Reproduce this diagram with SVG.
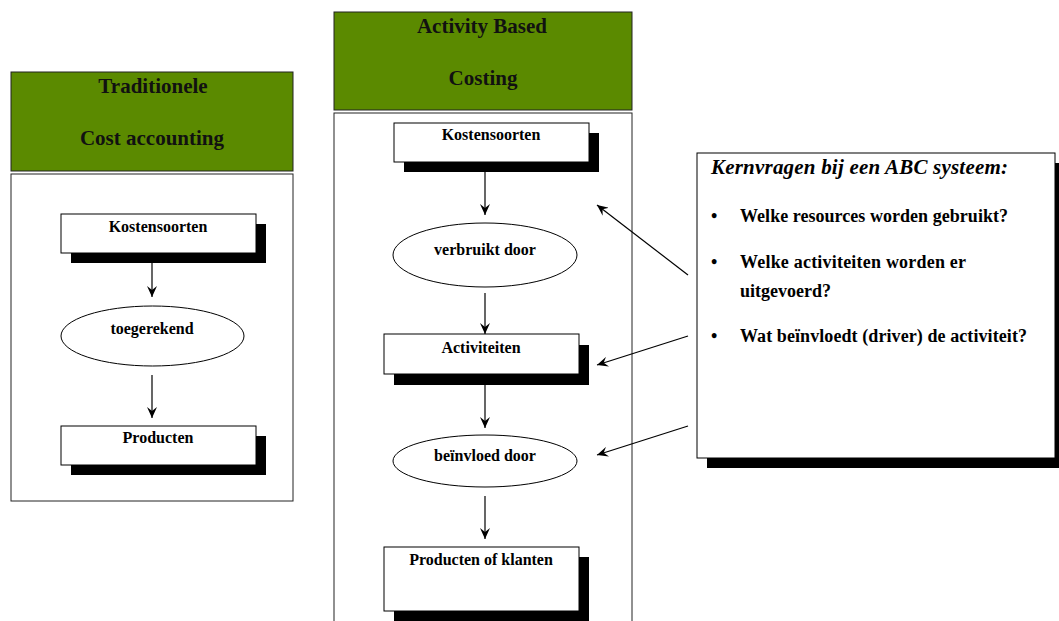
<svg xmlns="http://www.w3.org/2000/svg" width="1059" height="621" viewBox="0 0 1059 621">
<style>
.hdr{fill:#5b8a00;stroke:#222;stroke-width:1}
.panel{fill:#fff;stroke:#222;stroke-width:1}
.box{fill:#fff;stroke:#000;stroke-width:1}
.shadow{fill:#000}
.ht{font-family:"Liberation Serif",serif;font-weight:bold;font-size:21px;fill:#111;text-anchor:middle}
.nt{font-family:"Liberation Serif",serif;font-weight:bold;font-size:16px;fill:#000;text-anchor:middle}
.qt{font-family:"Liberation Serif",serif;font-weight:bold;font-size:18px;fill:#000}
.conn{stroke:#000;stroke-width:1.2;fill:none;marker-end:url(#ah)}
</style>
<defs>
<marker id="ah" viewBox="0 0 12 10" refX="11" refY="5" markerWidth="12" markerHeight="10" markerUnits="userSpaceOnUse" orient="auto">
<path d="M0,0 L11,5 L0,10 L4,5 Z" fill="#000"/>
</marker>
</defs>
<rect width="1059" height="621" fill="#fff"/>

<g id="traditional">
<rect class="hdr" x="11" y="72" width="282" height="99"/>
<text class="ht" x="153" y="93">Traditionele</text>
<text class="ht" x="152" y="145">Cost accounting</text>
<rect class="panel" x="11" y="174" width="282" height="327"/>
</g>
<g id="t-kostensoorten">
<rect class="shadow" x="71" y="224" width="195" height="39"/>
<rect class="box" x="61" y="214" width="195" height="39"/>
<text class="nt" x="158" y="232">Kostensoorten</text>
</g>
<g id="t-toegerekend">
<ellipse class="box" cx="152.5" cy="336" rx="91.5" ry="30"/>
<text class="nt" x="152" y="334">toegerekend</text>
</g>
<g id="t-producten">
<rect class="shadow" x="71" y="436" width="195" height="39"/>
<rect class="box" x="61" y="426" width="195" height="39"/>
<text class="nt" x="158" y="443">Producten</text>
</g>

<g id="abc">
<rect class="hdr" x="334" y="12" width="298" height="98"/>
<text class="ht" x="482" y="33">Activity Based</text>
<text class="ht" x="483" y="85">Costing</text>
<rect class="panel" x="334" y="113" width="298" height="520"/>
</g>
<g id="a-kostensoorten">
<rect class="shadow" x="404" y="133" width="195" height="39"/>
<rect class="box" x="394" y="123" width="195" height="39"/>
<text class="nt" x="491" y="140">Kostensoorten</text>
</g>
<g id="a-verbruikt">
<ellipse class="box" cx="485" cy="255" rx="92" ry="32"/>
<text class="nt" x="485" y="255">verbruikt door</text>
</g>
<g id="a-activiteiten">
<rect class="shadow" x="394" y="345" width="195" height="40"/>
<rect class="box" x="384" y="334" width="195" height="40"/>
<text class="nt" x="481" y="353">Activiteiten</text>
</g>
<g id="a-beinvloed">
<ellipse class="box" cx="485" cy="461" rx="92" ry="26"/>
<text class="nt" x="485" y="461">beïnvloed door</text>
</g>
<g id="a-producten">
<rect class="shadow" x="394" y="557" width="195" height="70"/>
<rect class="box" x="384" y="547" width="195" height="64"/>
<text class="nt" x="481" y="565">Producten of klanten</text>
</g>

<g id="kernvragen">
<rect class="shadow" x="707" y="163" width="360" height="305"/>
<rect class="box" x="697" y="153" width="358" height="305"/>
<text class="qt" x="711" y="174" style="font-style:italic;font-size:21px" textLength="297">Kernvragen bij een ABC systeem:</text>
<text class="qt" x="711" y="222">•</text>
<text class="qt" x="740" y="222" textLength="268">Welke resources worden gebruikt?</text>
<text class="qt" x="711" y="268">•</text>
<text class="qt" x="740" y="268" textLength="226">Welke activiteiten worden er</text>
<text class="qt" x="740" y="297">uitgevoerd?</text>
<text class="qt" x="711" y="342">•</text>
<text class="qt" x="740" y="342" textLength="287">Wat beïnvloedt (driver) de activiteit?</text>
</g>

<g id="connectors">
<line class="conn" x1="152" y1="263" x2="152" y2="297"/>
<line class="conn" x1="152" y1="375" x2="152" y2="418"/>
<line class="conn" x1="485" y1="172" x2="485" y2="215"/>
<line class="conn" x1="485" y1="293" x2="485" y2="334"/>
<line class="conn" x1="485" y1="385" x2="485" y2="428"/>
<line class="conn" x1="485" y1="496" x2="485" y2="539"/>
<line class="conn" x1="688" y1="275" x2="597" y2="205"/>
<line class="conn" x1="688" y1="336" x2="597" y2="365"/>
<line class="conn" x1="688" y1="426" x2="597" y2="455"/>
</g>
</svg>
